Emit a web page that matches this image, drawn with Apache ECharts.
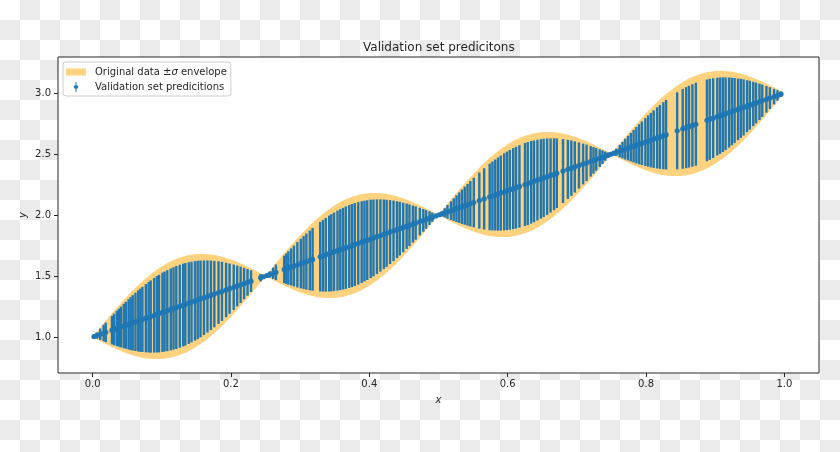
<!DOCTYPE html>
<html>
<head>
<meta charset="utf-8">
<script src="https://cdn.jsdelivr.net/npm/echarts@6/dist/echarts.min.js"></script>
<style>
html, body { margin: 0; padding: 0; }
body {
  width: 840px; height: 452px;
  background-color: #ffffff;
  background-image: conic-gradient(#ebebeb 0 25%, #ffffff 0 50%, #ebebeb 0 75%, #ffffff 0);
  background-size: 40px 40px;
  background-position: 0 0;
}
#chart { width: 840px; height: 452px; }
</style>
</head>
<body>
<div id="chart"></div>
<script>
// ---- Envelope (original data ± sigma) ----
const envX = [0.0000,0.0125,0.0250,0.0375,0.0500,0.0625,0.0750,0.0875,0.1000,0.1125,0.1250,0.1375,0.1500,0.1625,0.1750,0.1875,0.2000,0.2125,0.2250,0.2375,
  0.2500,0.2625,0.2750,0.2875,0.3000,0.3125,0.3250,0.3375,0.3500,0.3625,0.3750,0.3875,0.4000,0.4125,0.4250,0.4375,0.4500,0.4625,0.4750,0.4875,
  0.5000,0.5125,0.5250,0.5375,0.5500,0.5625,0.5750,0.5875,0.6000,0.6125,0.6250,0.6375,0.6500,0.6625,0.6750,0.6875,0.7000,0.7125,0.7250,0.7375,
  0.7500,0.7625,0.7750,0.7875,0.8000,0.8125,0.8250,0.8375,0.8500,0.8625,0.8750,0.8875,0.9000,0.9125,0.9250,0.9375,0.9500,0.9625,0.9750,0.9875,1.0000];
const envLower = [1.000,0.962,0.926,0.893,0.865,0.842,0.826,0.819,0.820,0.830,0.850,0.880,0.920,0.969,1.026,1.092,1.165,1.243,1.326,1.412,
  1.500,1.462,1.426,1.393,1.365,1.342,1.326,1.319,1.320,1.330,1.350,1.380,1.420,1.469,1.526,1.592,1.665,1.743,1.826,1.912,
  2.000,1.962,1.926,1.893,1.865,1.842,1.826,1.819,1.820,1.830,1.850,1.880,1.920,1.969,2.026,2.092,2.165,2.243,2.326,2.412,
  2.500,2.462,2.426,2.393,2.365,2.342,2.326,2.319,2.320,2.330,2.350,2.380,2.420,2.469,2.526,2.592,2.665,2.743,2.826,2.912,3.000];
const envUpper = [1.000,1.088,1.174,1.257,1.335,1.408,1.474,1.531,1.580,1.620,1.650,1.670,1.680,1.681,1.674,1.658,1.635,1.607,1.574,1.538,
  1.500,1.588,1.674,1.757,1.835,1.908,1.974,2.031,2.080,2.120,2.150,2.170,2.180,2.181,2.174,2.158,2.135,2.107,2.074,2.038,
  2.000,2.088,2.174,2.257,2.335,2.408,2.474,2.531,2.580,2.620,2.650,2.670,2.680,2.681,2.674,2.658,2.635,2.607,2.574,2.538,
  2.500,2.588,2.674,2.757,2.835,2.908,2.974,3.031,3.080,3.120,3.150,3.170,3.180,3.181,3.174,3.158,3.135,3.107,3.074,3.038,3.000];

// ---- Validation set predictions (x, predicted y, error half-length) ----
const valX = [0.002,0.006,0.011,0.016,0.019,
  0.028,0.031,0.035,0.038,0.041,0.045,0.048,0.052,0.055,0.058,0.062,0.066,0.069,0.072,0.077,0.081,0.084,0.089,0.093,0.096,
  0.101,0.104,0.108,0.113,0.117,0.121,0.126,0.131,0.134,0.139,0.143,0.148,0.152,0.156,0.161,0.166,0.171,0.176,0.182,0.187,
  0.193,0.198,0.204,0.209,0.214,0.219,0.224,0.229,
  0.243,0.247,0.252,0.256,0.261,0.265,
  0.277,0.280,0.283,0.287,0.291,0.296,0.301,0.305,0.309,0.314,0.318,0.329,0.333,0.337,0.342,0.345,0.349,0.354,0.358,0.362,
  0.366,0.371,0.375,0.379,0.384,0.389,0.393,0.397,0.402,0.406,0.411,0.416,0.421,0.425,0.430,0.435,0.440,0.444,0.449,0.454,
  0.458,0.463,0.467,
  0.473,0.478,0.482,0.487,0.491,0.496,0.501,0.505,0.509,0.513,
  0.518,0.522,0.526,0.530,0.534,0.538,0.542,0.546,0.551,0.559,0.566,0.574,0.578,0.582,0.586,0.590,0.595,0.599,0.603,0.608,
  0.612,0.617,0.625,0.629,0.634,0.638,0.643,0.648,0.652,0.657,0.662,0.667,0.671,0.680,0.687,0.692,0.697,0.703,0.709,0.714,
  0.720,0.724,0.728,0.733,0.737,0.741,
  0.745,0.749,0.753,0.757,
  0.762,0.766,0.770,0.774,0.778,0.782,0.786,0.790,0.794,0.799,0.803,0.807,0.811,0.816,0.820,0.825,0.829,0.845,0.853,0.858,
  0.862,0.867,0.872,0.888,0.892,0.897,0.903,0.907,0.911,0.915,0.920,0.924,0.928,0.933,0.937,0.941,0.946,0.950,0.955,0.959,
  0.964,0.968,0.974,0.979,0.985,0.990,0.995];
const valY = [1.004,1.012,1.022,1.032,1.038,
  1.056,1.062,1.070,1.076,1.082,1.090,1.096,1.104,1.110,1.116,1.124,1.132,1.138,1.144,1.154,1.162,1.168,1.178,1.186,1.192,
  1.202,1.208,1.216,1.226,1.234,1.242,1.252,1.262,1.268,1.278,1.286,1.296,1.304,1.312,1.322,1.332,1.342,1.352,1.364,1.374,
  1.386,1.396,1.408,1.418,1.428,1.438,1.448,1.458,
  1.486,1.494,1.504,1.512,1.522,1.530,
  1.554,1.560,1.566,1.574,1.582,1.592,1.602,1.610,1.618,1.628,1.636,1.658,1.666,1.674,1.684,1.690,1.698,1.708,1.716,1.724,
  1.732,1.742,1.750,1.758,1.768,1.778,1.786,1.794,1.804,1.812,1.822,1.832,1.842,1.850,1.860,1.870,1.880,1.888,1.898,1.908,
  1.916,1.926,1.934,
  1.946,1.956,1.964,1.974,1.982,1.992,2.002,2.010,2.018,2.026,
  2.036,2.044,2.052,2.060,2.068,2.076,2.084,2.092,2.102,2.118,2.132,2.148,2.156,2.164,2.172,2.180,2.190,2.198,2.206,2.216,
  2.224,2.234,2.250,2.258,2.268,2.276,2.286,2.296,2.304,2.314,2.324,2.334,2.342,2.360,2.374,2.384,2.394,2.406,2.418,2.428,
  2.440,2.448,2.456,2.466,2.474,2.482,
  2.490,2.498,2.506,2.514,
  2.524,2.532,2.540,2.548,2.556,2.564,2.572,2.580,2.588,2.598,2.606,2.614,2.622,2.632,2.640,2.650,2.658,2.690,2.706,2.716,
  2.724,2.734,2.744,2.776,2.784,2.794,2.806,2.814,2.822,2.830,2.840,2.848,2.856,2.866,2.874,2.882,2.892,2.900,2.910,2.918,
  2.928,2.936,2.948,2.958,2.970,2.980,2.990];
const valErr = [0.009,0.026,0.047,0.068,0.080,
  0.117,0.129,0.145,0.156,0.167,0.182,0.193,0.206,0.217,0.227,0.239,0.251,0.259,0.267,0.280,0.289,0.296,0.306,0.313,0.318,
  0.325,0.328,0.332,0.336,0.338,0.340,0.340,0.339,0.338,0.335,0.331,0.326,0.321,0.315,0.306,0.296,0.285,0.272,0.257,0.242,
  0.223,0.206,0.186,0.167,0.149,0.129,0.109,0.089,
  0.030,0.013,0.009,0.026,0.047,0.064,
  0.113,0.125,0.137,0.152,0.167,0.186,0.203,0.217,0.230,0.245,0.257,0.285,0.294,0.302,0.311,0.316,0.322,0.328,0.332,0.335,
  0.338,0.340,0.340,0.340,0.338,0.335,0.331,0.327,0.321,0.315,0.306,0.296,0.285,0.275,0.262,0.248,0.233,0.220,0.203,0.186,
  0.171,0.152,0.137,
  0.113,0.093,0.076,0.056,0.038,0.017,0.004,0.021,0.038,0.056,
  0.076,0.093,0.109,0.125,0.141,0.156,0.171,0.186,0.203,0.230,0.251,0.273,0.283,0.291,0.300,0.308,0.316,0.322,0.327,0.332,
  0.335,0.338,0.340,0.340,0.338,0.335,0.331,0.326,0.321,0.313,0.304,0.294,0.285,0.262,0.242,0.227,0.210,0.189,0.167,0.149,
  0.125,0.109,0.093,0.072,0.056,0.038,
  0.021,0.004,0.013,0.030,
  0.051,0.068,0.085,0.101,0.117,0.133,0.149,0.164,0.179,0.196,0.210,0.223,0.236,0.251,0.262,0.275,0.285,0.316,0.327,0.332,
  0.335,0.338,0.340,0.335,0.332,0.327,0.319,0.313,0.306,0.298,0.287,0.277,0.267,0.253,0.242,0.230,0.213,0.200,0.182,0.167,
  0.149,0.133,0.109,0.089,0.064,0.043,0.021];

// ---- Axis ticks ----
const xTicks = [0.0, 0.2, 0.4, 0.6, 0.8, 1.0];
const yTicks = [1.0, 1.5, 2.0, 2.5, 3.0];

const ENV_NAME = 'Original data \u00b1\u03c3 envelope';
const VAL_NAME = 'Validation set predicitions';
const FONT = 'DejaVu Sans';
const TXT = '#262626';

const chart = echarts.init(document.getElementById('chart'), null, { renderer: 'canvas' });

const option = {
  backgroundColor: 'transparent',
  animation: false,
  title: {
    text: 'Validation set predicitons',
    left: 358, top: 37,
    textStyle: { fontFamily: FONT, fontSize: 12, fontWeight: 'normal', color: TXT }
  },
  legend: {
    orient: 'vertical',
    left: 63, top: 62,
    padding: [5, 4, 4, 3],
    itemGap: 5,
    itemWidth: 20, itemHeight: 10,
    borderColor: '#cccccc', borderWidth: 1, borderRadius: 3,
    backgroundColor: 'rgba(255,255,255,0.8)',
    textStyle: {
      fontFamily: FONT, fontSize: 10, color: TXT, padding: [0, 0, 0, 4],
      rich: {
        t: { fontFamily: FONT, fontSize: 10, color: TXT },
        s: { fontFamily: FONT, fontSize: 10, color: TXT, fontStyle: 'italic' }
      }
    },
    formatter: function (name) {
      if (name === ENV_NAME) return '{t|Original data \u00b1}{s|\u03c3}{t| envelope}';
      return '{t|' + name + '}';
    },
    data: [
      { name: ENV_NAME, icon: 'path://M0,0h20v7h-20z', itemStyle: { color: 'rgba(255,165,0,0.5)' } },
      { name: VAL_NAME, icon: 'path://M1.5,0h1v3.2a1.6,1.6 0 0 1 0,3.6v3.2h-1v-3.2a1.6,1.6 0 0 1 0,-3.6z', itemStyle: { color: '#1f77b4' } }
    ]
  },
  grid: {
    left: 58, right: 21, top: 57, bottom: 79,
    show: true, backgroundColor: '#ffffff',
    borderColor: '#262626', borderWidth: 1
  },
  xAxis: {
    type: 'value', min: -0.05, max: 1.05,
    name: 'x', nameLocation: 'middle', nameGap: 22, nameMoveOverlap: false,
    nameTextStyle: { fontFamily: FONT, fontSize: 10, fontStyle: 'italic', color: TXT },
    axisLine: { show: false, onZero: false },
    splitLine: { show: false },
    axisTick: { show: true, inside: false, length: 4, customValues: xTicks, lineStyle: { color: '#262626', width: 1 } },
    axisLabel: { customValues: xTicks, margin: 6, fontFamily: FONT, fontSize: 10, color: TXT,
      formatter: function (v) { return v.toFixed(1); } }
  },
  yAxis: {
    type: 'value', min: 0.705, max: 3.295,
    name: 'y', nameLocation: 'middle', nameGap: 30, nameMoveOverlap: false,
    nameTextStyle: { fontFamily: FONT, fontSize: 10, fontStyle: 'italic', color: TXT },
    axisLine: { show: false, onZero: false },
    splitLine: { show: false },
    axisTick: { show: true, inside: false, length: 4, customValues: yTicks, lineStyle: { color: '#262626', width: 1 } },
    axisLabel: { customValues: yTicks, margin: 7, fontFamily: FONT, fontSize: 10, color: TXT,
      formatter: function (v) { return v.toFixed(1); } }
  },
  series: [
    {
      name: ENV_NAME,
      type: 'custom',
      clip: true,
      itemStyle: { color: 'rgba(255,165,0,0.5)' },
      data: [[envX[0], envLower[0]]],
      encode: { x: 0, y: 1 },
      renderItem: function (params, api) {
        const pts = [];
        for (let i = 0; i < envX.length; i++) pts.push(api.coord([envX[i], envUpper[i]]));
        for (let i = envX.length - 1; i >= 0; i--) pts.push(api.coord([envX[i], envLower[i]]));
        return { type: 'polygon', shape: { points: pts }, style: { fill: 'rgba(255,165,0,0.5)' } };
      },
      z: 1
    },
    {
      name: VAL_NAME,
      type: 'custom',
      clip: true,
      itemStyle: { color: '#1f77b4' },
      data: valX.map(function (x, i) { return [x, valY[i], valErr[i]]; }),
      encode: { x: 0, y: 1 },
      renderItem: function (params, api) {
        const x = api.value(0), y = api.value(1), e = api.value(2);
        const top = api.coord([x, y + e]);
        const bot = api.coord([x, y - e]);
        const c = api.coord([x, y]);
        return {
          type: 'group',
          children: [
            { type: 'line', shape: { x1: top[0], y1: top[1], x2: bot[0], y2: bot[1] },
              style: { stroke: '#1f77b4', lineWidth: 2.4 } },
            { type: 'circle', shape: { cx: c[0], cy: c[1], r: 2.6 },
              style: { fill: '#1f77b4' } }
          ]
        };
      },
      z: 2
    }
  ]
};
chart.setOption(option);
</script>
</body>
</html>
